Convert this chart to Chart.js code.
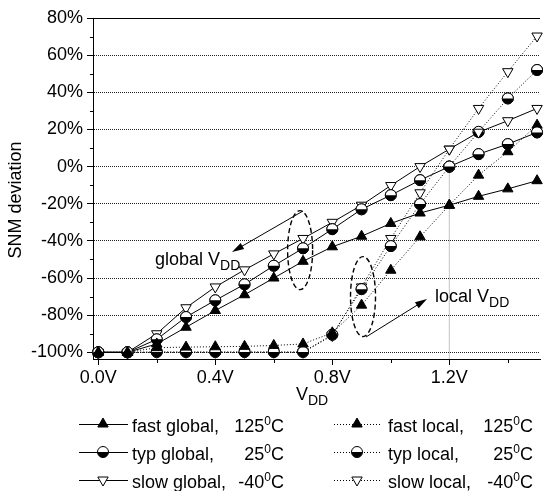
<!DOCTYPE html>
<html>
<head>
<meta charset="utf-8">
<script src="https://cdn.jsdelivr.net/npm/chart.js@4/dist/chart.umd.min.js"></script>
<style>
  html, body { margin: 0; padding: 0; background: #fff; }
  #wrap { width: 547px; height: 491px; }
</style>
</head>
<body>
<div id="wrap"><canvas id="snm" width="547" height="491"></canvas></div>
<script>
// Supply voltage sweep (V)
const vdd = [0.0, 0.1, 0.2, 0.3, 0.4, 0.5, 0.6, 0.7, 0.8, 0.9, 1.0, 1.1, 1.2, 1.3, 1.4, 1.5];

// SNM deviation (%) when VDD is scaled globally
const fastGlobal = [-100, -100, -95.5, -86.5, -77.5, -69, -60, -51, -43.2, -37.5, -30.6, -25, -20.8, -16, -12, -7.6];
const typGlobal  = [-100, -100, -93, -81, -72, -63.4, -53.4, -44, -33.7, -23, -15.4, -7.3, 0, 6.7, 12.1, 18.4];
const slowGlobal = [-100, -100, -90, -76, -64.8, -55.6, -47, -38.7, -30, -20.8, -10.2, 0, 9.4, 18.5, 24.7, 31.3];

// SNM deviation (%) when VDD is scaled locally
const fastLocal = [-100, -100, -97.5, -97.2, -97, -96.8, -96.3, -95.5, -89.5, -74.6, -55.8, -37.8, -20.8, -4.6, 8, 22.3];
const typLocal  = [-100, -100, -99.8, -99.8, -99.8, -99.8, -99.8, -99.8, -90.5, -66, -42.8, -20.2, 0, 18.7, 36.7, 52];
const slowLocal = [-100, -100, -100, -100, -100, -100, -100, -100, -91, -64.8, -38.7, -14.1, 9.4, 31.3, 51.1, 70.3];

// Axis ticks
const xTicks = [0.0, 0.4, 0.8, 1.2];
const xMinorTicks = [0.2, 0.6, 1.0, 1.4];
const yTicks = [-100, -80, -60, -40, -20, 0, 20, 40, 60, 80];
const yMinorTicks = [-90, -70, -50, -30, -10, 10, 30, 50, 70];

// Nominal supply marker
const nominalVdd = 1.2;

// Legend entries
const seriesNames = ['fast global,', 'typ global,', 'slow global,', 'fast local,', 'typ local,', 'slow local,'];
const seriesTemps = ['125', '25', '-40', '125', '25', '-40'];

const FONT = '"Liberation Sans", Arial, Helvetica, sans-serif';
const DOT_R = 5.5;

const pts = arr => vdd.map((v, i) => ({ x: v, y: arr[i] }));

const markerStyles = [
  { pointStyle: 'triangle', pointRadius: 6, pointBackgroundColor: '#000', pointRotation: 0 },
  { pointStyle: 'circle', pointRadius: DOT_R, pointBackgroundColor: '#fff', pointRotation: 0, halfFill: true },
  { pointStyle: 'triangle', pointRadius: 6, pointBackgroundColor: '#fff', pointRotation: 180 }
];

function series(label, arr, style, dotted) {
  return Object.assign({
    label: label,
    data: pts(arr),
    borderColor: '#000',
    borderWidth: 1,
    borderDash: dotted ? [1, 2] : [],
    pointBorderColor: '#000',
    pointBorderWidth: 1,
    pointHoverRadius: 6,
    tension: 0,
    clip: false
  }, style);
}

const datasets = [
  series(seriesNames[0], fastGlobal, markerStyles[0], false),
  series(seriesNames[1], typGlobal, markerStyles[1], false),
  series(seriesNames[2], slowGlobal, markerStyles[2], false),
  series(seriesNames[3], fastLocal, markerStyles[0], true),
  series(seriesNames[4], typLocal, markerStyles[1], true),
  series(seriesNames[5], slowLocal, markerStyles[2], true),
  {
    label: 'nominal',
    data: [{ x: nominalVdd, y: 0 }, { x: nominalVdd, y: -103.6 }],
    borderColor: '#888',
    borderWidth: 1,
    borderDash: [1, 1],
    pointRadius: 0,
    clip: false
  }
];

// half-filled circle: white top, black bottom
function halfDot(ctx, x, y, r) {
  ctx.setLineDash([]);
  ctx.beginPath(); ctx.arc(x, y, r, 0, Math.PI * 2); ctx.fillStyle = '#fff'; ctx.fill();
  ctx.beginPath(); ctx.arc(x, y, r, 0, Math.PI); ctx.closePath(); ctx.fillStyle = '#000'; ctx.fill();
  ctx.beginPath(); ctx.arc(x, y, r, 0, Math.PI * 2); ctx.lineWidth = 1; ctx.strokeStyle = '#000'; ctx.stroke();
}

function arrow(ctx, x1, y1, x2, y2) {
  const ang = Math.atan2(y2 - y1, x2 - x1);
  const L = 12, W = 3.5;
  ctx.beginPath();
  ctx.moveTo(x1, y1);
  ctx.lineTo(x2 - Math.cos(ang) * L * 0.8, y2 - Math.sin(ang) * L * 0.8);
  ctx.lineWidth = 1; ctx.strokeStyle = '#000'; ctx.setLineDash([]); ctx.stroke();
  ctx.beginPath();
  ctx.moveTo(x2, y2);
  ctx.lineTo(x2 - Math.cos(ang) * L - Math.sin(ang) * W, y2 - Math.sin(ang) * L + Math.cos(ang) * W);
  ctx.lineTo(x2 - Math.cos(ang) * L + Math.sin(ang) * W, y2 - Math.sin(ang) * L - Math.cos(ang) * W);
  ctx.closePath(); ctx.fillStyle = '#000'; ctx.fill();
}

function textWithSub(ctx, main, sub, x, y, size) {
  ctx.font = size + 'px ' + FONT;
  ctx.textAlign = 'left'; ctx.textBaseline = 'alphabetic';
  ctx.fillText(main, x, y);
  const w = ctx.measureText(main).width;
  ctx.font = Math.round(size * 0.78) + 'px ' + FONT;
  ctx.fillText(sub, x + w, y + 5);
}

// temperature written as NNN with raised 0 and C, right-aligned at xr
function tempText(ctx, num, xr, y) {
  ctx.textBaseline = 'alphabetic'; ctx.textAlign = 'left';
  ctx.font = '18px ' + FONT;
  const wC = ctx.measureText('C').width;
  const wN = ctx.measureText(num).width;
  ctx.font = '12px ' + FONT;
  const w0 = ctx.measureText('0').width;
  const x0 = xr - wC - w0 - wN;
  ctx.font = '18px ' + FONT;
  ctx.fillText(num, x0, y);
  ctx.fillText('C', xr - wC, y);
  ctx.font = '12px ' + FONT;
  ctx.fillText('0', x0 + wN, y - 7);
}

function legendMarker(ctx, kind, x, y) {
  ctx.setLineDash([]);
  ctx.lineWidth = 1; ctx.strokeStyle = '#000';
  if (kind === 1) { halfDot(ctx, x, y, DOT_R); return; }
  const r = 6;
  const rot = kind === 2 ? Math.PI : 0;
  ctx.beginPath();
  for (let k = 0; k < 3; k++) {
    const a = rot + k * 2 * Math.PI / 3;
    const px = x + Math.sin(a) * r, py = y - Math.cos(a) * r;
    if (k === 0) ctx.moveTo(px, py); else ctx.lineTo(px, py);
  }
  ctx.closePath();
  ctx.fillStyle = kind === 0 ? '#000' : '#fff';
  ctx.fill(); ctx.stroke();
}

const decorations = {
  id: 'decorations',
  afterDatasetDraw(chart, args) {
    const ds = chart.data.datasets[args.index];
    if (!ds.halfFill) return;
    const ctx = chart.ctx;
    ctx.save();
    args.meta.data.forEach(el => halfDot(ctx, el.x, el.y, DOT_R));
    ctx.restore();
  },
  afterDraw(chart) {
    const ctx = chart.ctx;
    const xs = chart.scales.x, ys = chart.scales.y;
    const area = chart.chartArea;
    ctx.save();

    // top frame line
    ctx.beginPath();
    ctx.moveTo(area.left, Math.round(area.top) + 0.5);
    ctx.lineTo(area.right, Math.round(area.top) + 0.5);
    ctx.lineWidth = 1; ctx.strokeStyle = '#000'; ctx.setLineDash([]); ctx.stroke();

    // minor ticks
    ctx.beginPath();
    xMinorTicks.forEach(v => {
      const px = Math.round(xs.getPixelForValue(v)) + 0.5;
      ctx.moveTo(px, area.bottom); ctx.lineTo(px, area.bottom + 4);
    });
    yMinorTicks.forEach(v => {
      const py = Math.round(ys.getPixelForValue(v)) + 0.5;
      ctx.moveTo(area.left, py); ctx.lineTo(area.left - 3, py);
    });
    ctx.stroke();

    // grouping ellipses
    ctx.setLineDash([5, 3]);
    ctx.lineWidth = 1.4;
    [[0.69, -45, 12.5, 39.5], [0.905, -70, 12.5, 40]].forEach(e => {
      ctx.beginPath();
      ctx.ellipse(xs.getPixelForValue(e[0]), ys.getPixelForValue(e[1]), e[2], e[3], 0, 0, Math.PI * 2);
      ctx.stroke();
    });
    ctx.setLineDash([]);

    // arrows to the group labels
    arrow(ctx, 303, 211, 232, 252);
    arrow(ctx, 366, 337, 427, 299);

    ctx.fillStyle = '#000';
    textWithSub(ctx, 'global V', 'DD', 155, 265, 18);
    textWithSub(ctx, 'local V', 'DD', 435, 302, 18);

    // axis titles
    textWithSub(ctx, 'V', 'DD', 296, 400, 18);
    ctx.save();
    ctx.translate(21, 200);
    ctx.rotate(-Math.PI / 2);
    ctx.font = '18px ' + FONT;
    ctx.textAlign = 'center'; ctx.textBaseline = 'alphabetic';
    ctx.fillText('SNM deviation', 0, 0);
    ctx.restore();

    // legend
    const rows = [424, 452, 480];
    const cols = [
      { l1: 79, l2: 128, m: 103, t: 132, tr: 284, dotted: false },
      { l1: 334, l2: 380, m: 357, t: 388, tr: 533, dotted: true }
    ];
    for (let i = 0; i < 6; i++) {
      const c = cols[Math.floor(i / 3)];
      const y = rows[i % 3];
      ctx.beginPath();
      ctx.setLineDash(c.dotted ? [1, 2] : []);
      ctx.moveTo(c.l1, y + 0.5); ctx.lineTo(c.l2, y + 0.5);
      ctx.lineWidth = 1; ctx.strokeStyle = '#000'; ctx.stroke();
      legendMarker(ctx, i % 3, c.m, y);
      ctx.fillStyle = '#000';
      ctx.font = '18px ' + FONT;
      ctx.textAlign = 'left'; ctx.textBaseline = 'alphabetic';
      ctx.fillText(seriesNames[i], c.t, y + 7.5);
      tempText(ctx, seriesTemps[i], c.tr, y + 7.5);
    }
    ctx.restore();
  }
};

new Chart(document.getElementById('snm'), {
  type: 'line',
  data: { datasets: datasets },
  options: {
    responsive: false,
    animation: false,
    devicePixelRatio: 1,
    layout: { padding: { top: 18, right: 0, bottom: 0, left: 0 } },
    plugins: { legend: { display: false }, tooltip: { enabled: false } },
    scales: {
      x: {
        type: 'linear',
        min: -0.018,
        max: 1.51,
        afterFit: s => { s.height = 132; },
        afterBuildTicks: s => { s.ticks = xTicks.map(v => ({ value: v })); },
        ticks: {
          color: '#000',
          padding: 2,
          font: { family: FONT, size: 18 },
          callback: v => Number(v).toFixed(1) + 'V'
        },
        grid: { drawOnChartArea: false, drawTicks: true, tickLength: 6, tickColor: '#000', tickWidth: 1 },
        border: { display: true, color: '#000', width: 1 }
      },
      y: {
        type: 'linear',
        min: -103.6,
        max: 80,
        afterFit: s => { s.width = 93; },
        afterBuildTicks: s => { s.ticks = yTicks.map(v => ({ value: v })); },
        ticks: {
          color: '#000',
          padding: 4,
          font: { family: FONT, size: 18 },
          callback: v => v + '%'
        },
        grid: {
          color: c => (c.tick && c.tick.value === 80) ? 'rgba(0,0,0,0)' : '#222',
          lineWidth: 1,
          drawTicks: true,
          tickLength: 6,
          tickColor: '#000',
          tickWidth: 1
        },
        border: { display: true, color: '#000', width: 1, dash: [1, 1] }
      }
    }
  },
  plugins: [decorations]
});
</script>
</body>
</html>
